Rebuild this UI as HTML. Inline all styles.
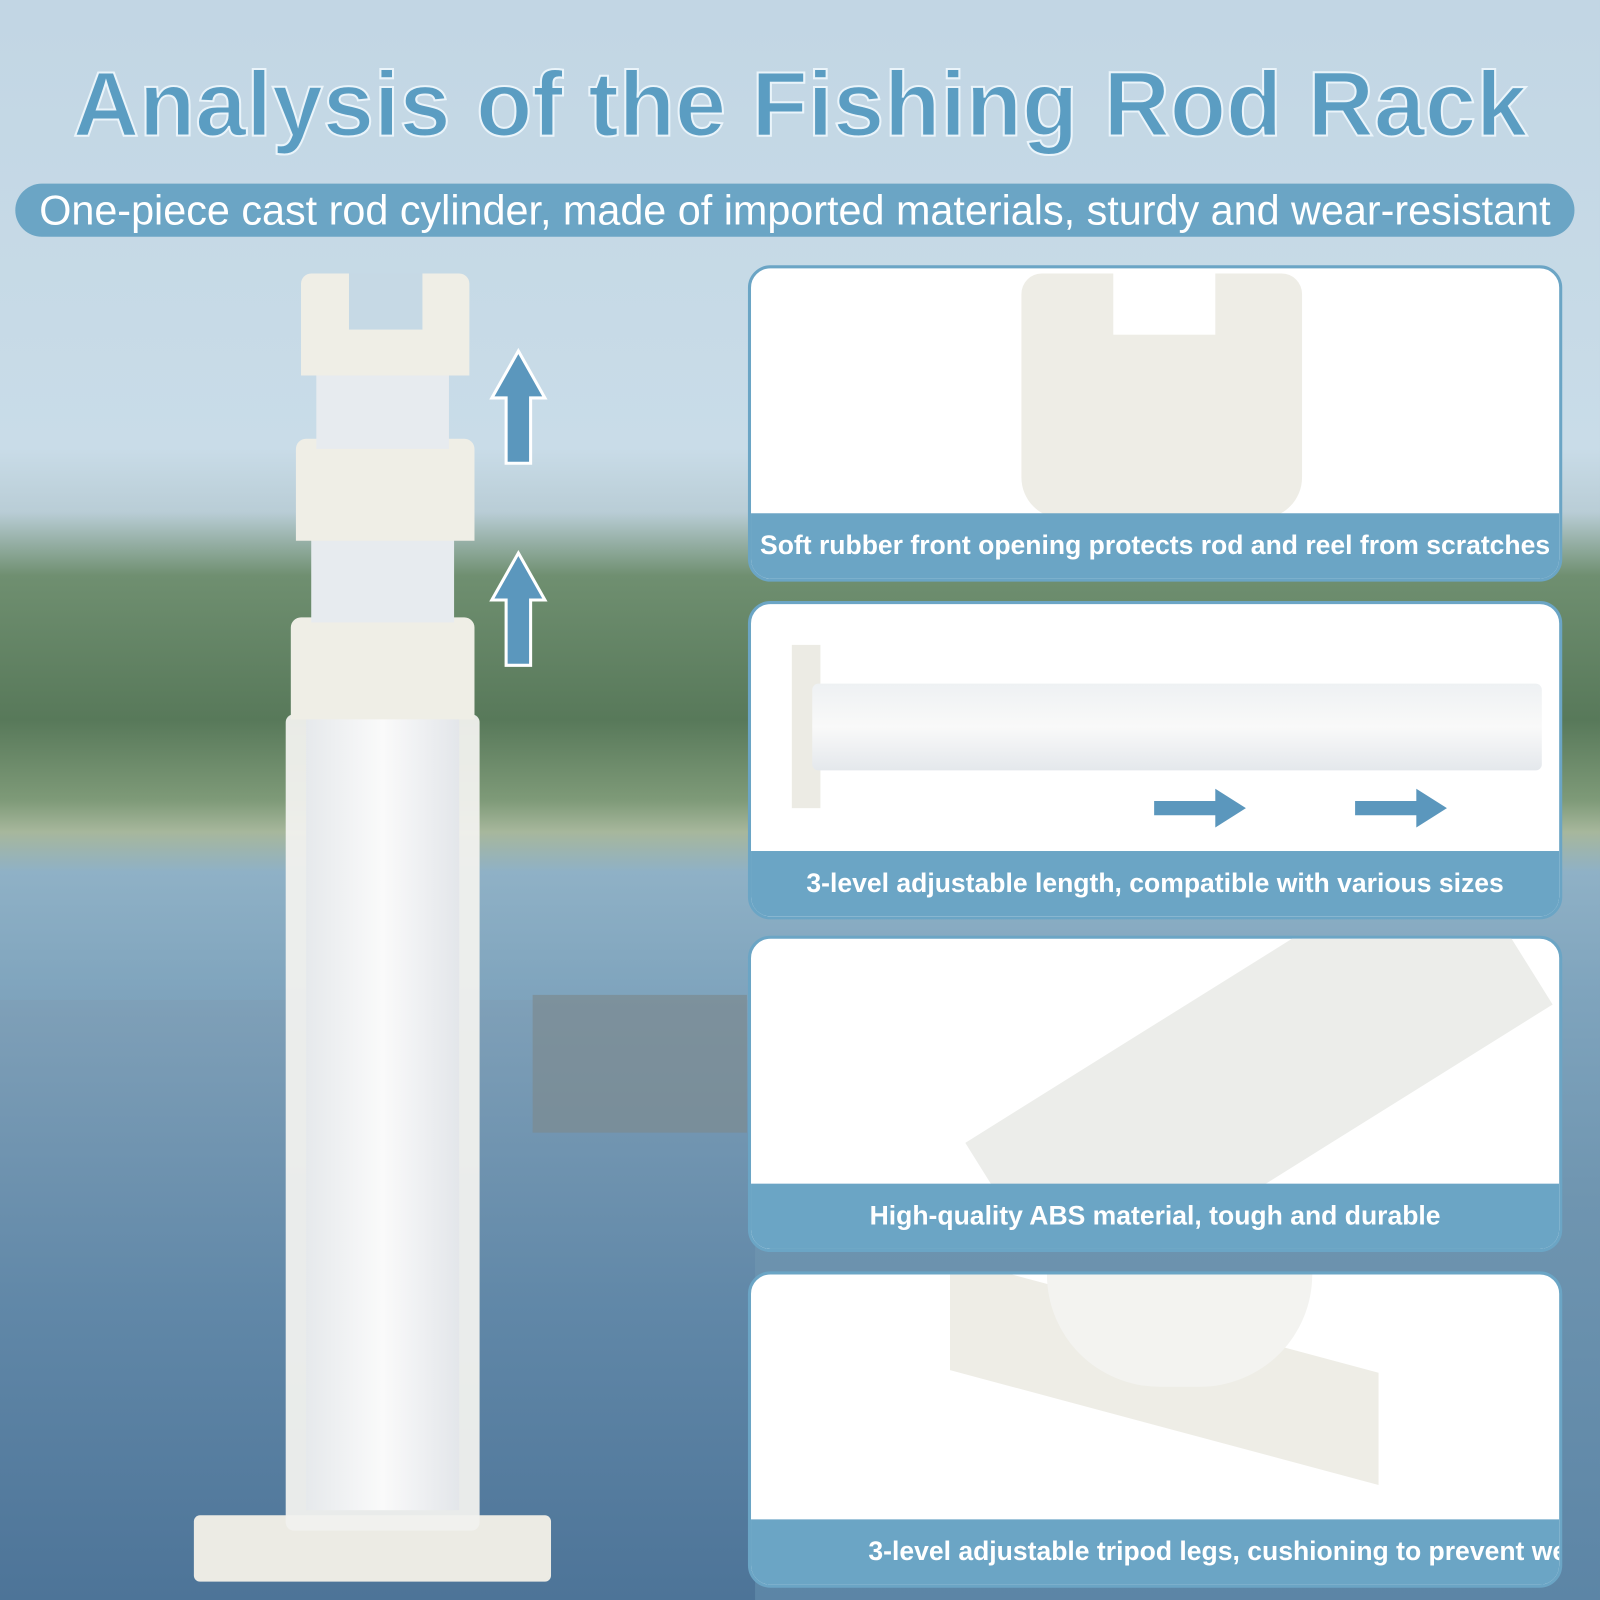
<!DOCTYPE html>
<html><head><meta charset="utf-8"><style>
*{margin:0;padding:0;box-sizing:border-box}
body{width:1600px;height:1600px;overflow:hidden;position:relative;font-family:"Liberation Sans",sans-serif;background:#5c85a6}
#w{position:absolute;left:0;top:0;width:1568px;height:1568px;transform:scale(1.0204);transform-origin:0 0;
background:linear-gradient(180deg,#c2d6e4 0%,#c9dce8 28%,#b9cdd6 32%,#6f8f70 36%,#58795a 45%,#7e9a78 50%,#a7b79c 52%,#8fb1c6 54.5%,#7fa4bd 62%,#6f95b0 75%,#5c85a6 100%)}
.abs{position:absolute}
.title{left:0;width:1568px;top:52px;text-align:center;font-size:90px;font-weight:bold;color:#5b9dc2;
-webkit-text-stroke:2px #eaf4fa}
.banner{left:15px;top:180px;width:1528px;height:52px;border-radius:26px;background:#6ba5c5;color:#fff;font-size:40.5px;line-height:52px;text-align:center;white-space:nowrap}
.panel{left:733px;width:798px;background:#fff;border:3px solid #6ba5c5;border-radius:22px;overflow:hidden}
.cap{position:absolute;left:0;right:0;bottom:0;height:64px;background:#6ba5c5;color:#fff;font-weight:bold;font-size:26px;line-height:62px;text-align:center;white-space:nowrap}
</style></head><body><div id="w">
<div class="abs" style="left:0;top:980px;width:740px;height:588px;background:linear-gradient(180deg,#7fa0b8,#6188a8 50%,#4d7498)"></div>
<div class="abs" style="left:522px;top:975px;width:210px;height:135px;background:#7c8a90;opacity:.7"></div>
<div class="abs title">Analysis of the Fishing Rod Rack</div>
<div class="abs banner">One-piece cast rod cylinder, made of imported materials, sturdy and wear-resistant</div>

<div class="abs" style="left:190px;top:1485px;width:350px;height:65px;border-radius:6px;background:#ecebe4"></div>
<div class="abs" style="left:280px;top:700px;width:190px;height:800px;background:#f1f1ee;border-radius:8px;opacity:.95"></div>
<div class="abs" style="left:300px;top:700px;width:150px;height:780px;background:linear-gradient(90deg,#e6e9ec,#fafafa,#e3e6ea)"></div>
<div class="abs" style="left:285px;top:605px;width:180px;height:100px;background:#efeee6;border-radius:10px 10px 0 0"></div>
<div class="abs" style="left:305px;top:500px;width:140px;height:110px;background:#e7ebef"></div>
<div class="abs" style="left:290px;top:430px;width:175px;height:100px;background:#efeee6;border-radius:10px 10px 0 0"></div>
<div class="abs" style="left:310px;top:360px;width:130px;height:80px;background:#e7ebef"></div>
<div class="abs" style="left:295px;top:268px;width:165px;height:100px;background:#efeee6;border-radius:10px 10px 0 0"></div>
<div class="abs" style="left:342px;top:268px;width:72px;height:55px;background:#c6d9e5"></div>

<svg class="abs" style="left:478px;top:340px" width="60" height="320">
<polygon points="30,4 56,50 42,50 42,114 18,114 18,50 4,50" fill="#5b97bd" stroke="#fff" stroke-width="3"/>
<polygon points="30,202 56,248 42,248 42,312 18,312 18,248 4,248" fill="#5b97bd" stroke="#fff" stroke-width="3"/>
</svg>

<div class="abs panel" style="top:260px;height:310px">
 <div class="abs" style="left:265px;top:5px;width:275px;height:240px;background:#eeede6;border-radius:20px 20px 40px 40px"></div>
 <div class="abs" style="left:355px;top:5px;width:100px;height:60px;background:#fff"></div>
 <div class="cap">Soft rubber front opening protects rod and reel from scratches</div>
</div>
<div class="abs panel" style="top:589px;height:312px">
 <div class="abs" style="left:40px;top:40px;width:28px;height:160px;background:#ecebe4"></div>
 <div class="abs" style="left:60px;top:78px;width:715px;height:85px;background:linear-gradient(180deg,#eef1f3,#f9f9f9,#e4e8ec);border-radius:6px"></div>
 <svg class="abs" style="left:395px;top:175px" width="300" height="50">
  <polygon points="0,18 60,18 60,6 90,25 60,44 60,32 0,32" fill="#5b97bd"/>
  <polygon points="197,18 257,18 257,6 287,25 257,44 257,32 197,32" fill="#5b97bd"/>
 </svg>
 <div class="cap">3-level adjustable length, compatible with various sizes</div>
</div>
<div class="abs panel" style="top:917px;height:310px">
 <div class="abs" style="width:560px;height:190px;background:#ecedea;transform:rotate(-32deg);transform-origin:0 0;top:200px;left:210px"></div>
 <div class="cap">High-quality ABS material, tough and durable</div>
</div>
<div class="abs panel" style="top:1246px;height:310px">
 <div class="abs" style="left:195px;top:40px;width:420px;height:110px;background:#eeede6;transform:skewY(15deg)"></div>
 <div class="abs" style="left:290px;top:0px;width:260px;height:110px;background:#f3f3f0;border-radius:0 0 130px 130px"></div>
 <div class="cap" style="text-align:left;padding-left:115px">3-level adjustable tripod legs, cushioning to prevent wear</div>
</div>
</div></body></html>
